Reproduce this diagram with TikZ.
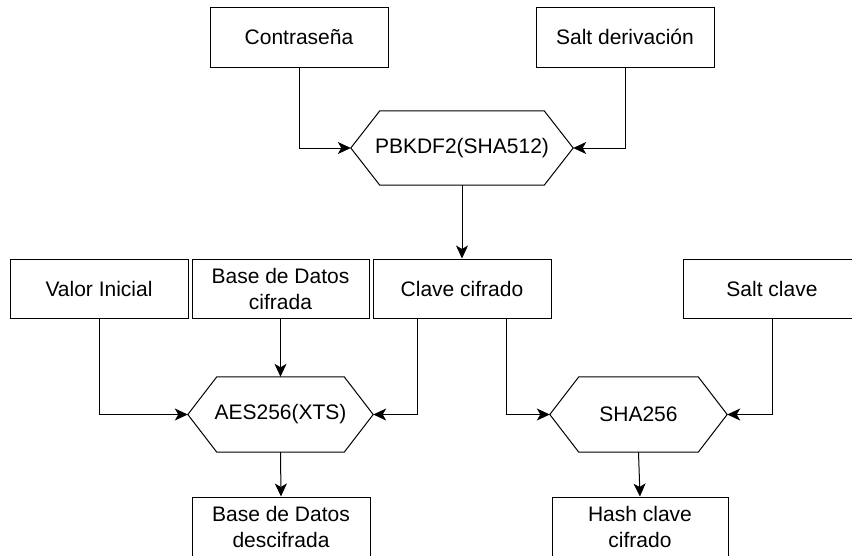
\documentclass[tikz,border=0pt]{standalone}
\usepackage{fontspec}
\setmainfont{Liberation Sans}
\usetikzlibrary{arrows.meta,positioning}

% outline of a process hexagon, drawn on the anchors of a plain node
\newcommand{\hexframe}[1]{%
  \draw[line width=1pt] (#1.west) -- ([xshift=29pt]#1.north west) -- ([xshift=-29pt]#1.north east)
    -- (#1.east) -- ([xshift=-29pt]#1.south east) -- ([xshift=29pt]#1.south west) -- cycle;}

\begin{document}
\begin{tikzpicture}[x=1pt, y=-1pt,
    data/.style={draw, line width=1pt, fill=white, align=center, inner sep=0pt, minimum width=178pt, minimum height=60pt, font=\fontsize{21}{26}\selectfont},
    proc/.style={align=center, inner sep=0pt, minimum height=75pt, font=\fontsize{21}{26}\selectfont},
    arrow/.style={-{Stealth[length=13pt, width=12pt, inset=3.5pt]}, line width=1pt}
  ]
    \clip (0,0) rectangle (852,555);

    \node[data] (contra) at (299,37) {Contraseña};
    \node[data] (saltd) at (625,37) {Salt derivación};
    \node[proc, minimum width=222pt, minimum height=74pt] (pbkdf) at (462,148) {PBKDF2(SHA512)};
    \hexframe{pbkdf}

    \node[data, minimum height=59pt] (valor) at (99,288.5) {Valor Inicial};
    \node[data, minimum width=177pt, minimum height=59pt] (bdc) at (280.5,288.5) {Base de Datos\\cifrada};
    \node[data, minimum height=59pt] (clave) at (462,288.5) {Clave cifrado};
    \node[data, minimum height=59pt] (saltc) at (772,288.5) {Salt clave};

    \node[proc, minimum width=185pt] (aes) at (280.5,414.5) {AES256(XTS)};
    \hexframe{aes}
    \node[proc, minimum width=177pt] (sha) at (638.5,414.5) {SHA256};
    \hexframe{sha}

    \node[data] (bdd) at (281,527) {Base de Datos\\descifrada};
    \node[data, minimum width=176pt] (hash) at (640,527) {Hash clave\\cifrado};

    \draw[arrow] (contra.south) |- (pbkdf.west);
    \draw[arrow] (saltd.south) |- (pbkdf.east);
    \draw[arrow] (pbkdf.south) -- (clave.north);
    \draw[arrow] (valor.south) |- (aes.west);
    \draw[arrow] (bdc.south) -- (aes.north);
    \draw[arrow] ([xshift=-45pt]clave.south) |- (aes.east);
    \draw[arrow] ([xshift=44pt]clave.south) |- (sha.west);
    \draw[arrow] (saltc.south) |- (sha.east);
    \draw[arrow] (aes.south) -- (bdd.north);
    \draw[arrow] (sha.south) -- (hash.north);
\end{tikzpicture}
\end{document}
